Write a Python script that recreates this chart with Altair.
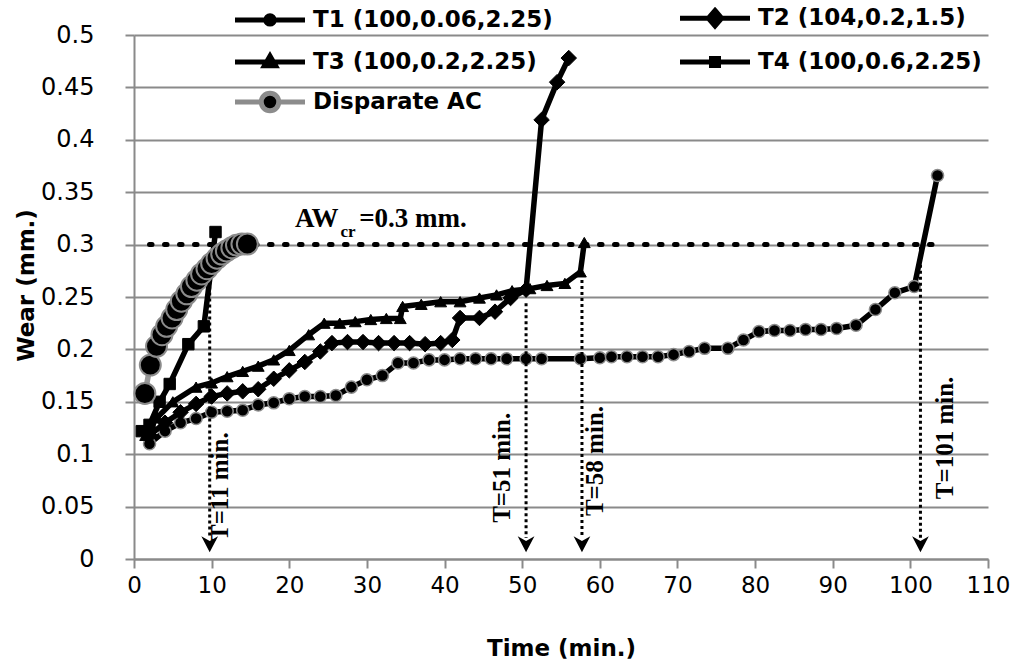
import altair as alt
import pandas as pd

# ---------------- data ----------------
series_names = ["T1 (100,0.06,2.25)", "T2 (104,0.2,1.5)", "T3 (100,0.2,2.25)",
                "T4 (100,0.6,2.25)", "Disparate AC"]
# legend reading order (legend fills column by column)
legend_order = [series_names[0], series_names[2], series_names[4],
                series_names[1], series_names[3]]

t1_time = [2, 4, 6, 8, 10, 12, 14, 16, 18, 20, 22, 24, 26, 28, 30, 32, 34, 36, 38, 40,
           42, 44, 46, 48, 50.5, 52.5, 57.5, 60, 61.5, 63.5, 65.5, 67.5, 69.5, 71.5, 73.5,
           76.5, 78.5, 80.5, 82.5, 84.5, 86.5, 88.5, 90.5, 93, 95.5, 98, 100.5, 103.5]
t1_wear = [0.110, 0.122, 0.130, 0.134, 0.140, 0.141, 0.142, 0.147, 0.149, 0.153,
           0.155, 0.155, 0.156, 0.164, 0.171, 0.175, 0.187, 0.187, 0.190, 0.190,
           0.191, 0.191, 0.191, 0.191, 0.191, 0.191, 0.191, 0.192, 0.193, 0.193,
           0.193, 0.193, 0.195, 0.198, 0.201, 0.201, 0.209, 0.217, 0.218, 0.218,
           0.219, 0.219, 0.220, 0.223, 0.238, 0.254, 0.260, 0.366]

t2_time = [2, 4, 6, 8, 10, 12, 14, 16, 18, 20, 22, 24, 25.5, 27.5, 29.5, 31.5, 33.5,
           35.5, 37.5, 39.5, 41, 42, 44.5, 46.5, 48.5, 50.5, 52.5, 54.5, 56]
t2_wear = [0.118, 0.130, 0.140, 0.148, 0.155, 0.158, 0.160, 0.162, 0.172, 0.180,
           0.188, 0.198, 0.206, 0.207, 0.207, 0.206, 0.206, 0.206, 0.205, 0.206,
           0.209, 0.230, 0.230, 0.236, 0.249, 0.257, 0.419, 0.455, 0.478]

t3_time = [1.5, 3, 5, 8, 10, 12, 14, 16, 18, 20, 22.5, 24.5, 26.5, 28.5, 30.5, 32.5,
           34.3, 34.6, 37, 39.5, 42, 44.5, 46.7, 48.7, 51, 53.2, 55.5, 57.5, 58]
t3_wear = [0.118, 0.135, 0.150, 0.164, 0.168, 0.174, 0.179, 0.184, 0.190, 0.199,
           0.214, 0.225, 0.225, 0.2265, 0.2285, 0.2295, 0.2295, 0.241, 0.243, 0.2455,
           0.2455, 0.249, 0.252, 0.256, 0.258, 0.261, 0.263, 0.274, 0.302]

t4_time = [1, 2, 3.3, 4.6, 7, 9, 10.5]
t4_wear = [0.122, 0.128, 0.150, 0.167, 0.205, 0.222, 0.312]

ac_time = [1.4, 2.1, 2.9, 3.6, 4.2, 4.9, 5.5, 6.1, 6.8, 7.4, 8.1, 8.7, 9.4, 10.0,
           10.7, 11.3, 11.9, 12.6, 13.2, 13.9, 14.6]
ac_wear = [0.158, 0.185, 0.203, 0.214, 0.222, 0.230, 0.238, 0.246, 0.253, 0.260,
           0.266, 0.272, 0.277, 0.282, 0.287, 0.291, 0.294, 0.297, 0.2995, 0.3005, 0.3005]

x_ticks = [0, 10, 20, 30, 40, 50, 60, 70, 80, 90, 100, 110]
y_ticks = [0, 0.05, 0.1, 0.15, 0.2, 0.25, 0.3, 0.35, 0.4, 0.45, 0.5]

# critical wear line and arrows
crit_time = [2, 103.5]
crit_wear = [0.3, 0.3]
arrow_time = [9.75, 50.5, 57.7, 101.3]
arrow_top = [0.26, 0.244, 0.272, 0.298]
arrow_bottom = [0.02, 0.02, 0.02, 0.02]
arrow_head = [0.0145, 0.0145, 0.0145, 0.0145]
label_text = ["T=11 min.", "T=51 min.", "T=58 min.", "T=101 min."]
label_time = [11.1, 47.4, 59.4, 104.5]
label_wear = [0.069, 0.087, 0.0935, 0.1155]

aw_parts = ["AW", "cr", "=0.3 mm."]
aw_time = [20.75, 26.6, 29.0]
aw_wear = [0.317, 0.307, 0.317]
aw_size = [27, 17, 27]

# ---------------- frames ----------------
all_times = [t1_time, t2_time, t3_time, t4_time, ac_time]
all_wears = [t1_wear, t2_wear, t3_wear, t4_wear, ac_wear]
rows = []
for name, ts, ws in zip(series_names, all_times, all_wears):
    for i, (t, w) in enumerate(zip(ts, ws)):
        rows.append({"series": name, "time": t, "wear": w, "idx": i})
df = pd.DataFrame(rows)

crit_df = pd.DataFrame({"time": crit_time, "wear": crit_wear})
arrow_df = pd.DataFrame({"time": arrow_time, "wear": arrow_top, "wear2": arrow_bottom,
                         "head": arrow_head})
label_df = pd.DataFrame({"text": label_text, "time": label_time, "wear": label_wear})
aw_df = pd.DataFrame({"text": aw_parts, "time": aw_time, "wear": aw_wear, "size": aw_size})
legend_df = pd.DataFrame({"series": series_names, "time": [t[0] for t in all_times],
                          "wear": [w[0] for w in all_wears]})

W, H = 854, 524
GRID = "#8a8a8a"
TICK_FONT = "DejaVu Sans"

x_axis = alt.Axis(values=x_ticks, title="Time (min.)", grid=False,
                  domainColor=GRID, domainWidth=2, tickColor=GRID, tickWidth=2, tickSize=9,
                  labelFont=TICK_FONT, labelFontSize=23, labelColor="black", labelPadding=6,
                  labelFlush=False, labelOverlap=False,
                  titleFont=TICK_FONT, titleFontSize=23, titleFontWeight="bold",
                  titleColor="black", titleY=89, titleBaseline="middle")
y_axis = alt.Axis(values=y_ticks, format="~g", title="Wear (mm.)", grid=True,
                  gridColor=GRID, gridWidth=2,
                  domainColor=GRID, domainWidth=2, tickColor=GRID, tickWidth=2, tickSize=9,
                  labelFont=TICK_FONT, labelFontSize=24, labelColor="black", labelPadding=31,
                  labelFlush=False, labelOverlap=False,
                  titleFont=TICK_FONT, titleFontSize=23, titleFontWeight="bold",
                  titleColor="black", titleX=-108, titleY=250, titleAngle=270,
                  titleAlign="center", titleBaseline="middle")

x_scale = alt.Scale(domain=[0, 110], nice=False, zero=False)
y_scale = alt.Scale(domain=[0, 0.5], nice=False)
X = alt.X("time:Q", scale=x_scale, axis=x_axis)
Y = alt.Y("wear:Q", scale=y_scale, axis=y_axis)

point_style = {
    series_names[0]: dict(shape="circle", size=145, stroke="#8c8c8c", strokeWidth=1.5),
    series_names[1]: dict(shape="diamond", size=240, stroke="black", strokeWidth=1),
    series_names[2]: dict(shape="triangle-up", size=140, stroke="black", strokeWidth=1),
    series_names[3]: dict(shape="square", size=130, stroke="black", strokeWidth=1),
    series_names[4]: dict(shape="circle", size=440, stroke="#8c8c8c", strokeWidth=2),
}
line_color = {n: "black" for n in series_names}
line_color[series_names[4]] = "#9a9a9a"

layers = []
# critical line first (behind)
layers.append(alt.Chart(crit_df).mark_line(color="black", strokeWidth=5, strokeDash=[2.5, 12.5],
                                           strokeCap="round").encode(x=X, y=Y))
for n in series_names:
    sub = alt.Chart(df).transform_filter(alt.datum.series == n)
    layers.append(sub.mark_line(color=line_color[n], strokeWidth=5.5).encode(
        x=X, y=Y, order="idx:Q"))
    layers.append(sub.mark_point(filled=True, fill="black", opacity=1,
                                 **point_style[n]).encode(x=X, y=Y))

# arrows
layers.append(alt.Chart(arrow_df).mark_rule(color="black", strokeWidth=3, strokeDash=[3, 3]).encode(
    x=X, y=Y, y2="wear2:Q"))
arrow_path = "M-1,-0.9L0,1L1,-0.9L0,-0.35Z"
layers.append(alt.Chart(arrow_df).mark_point(shape=arrow_path, size=280, filled=True,
                                             color="black", opacity=1).encode(
    x=X, y=alt.Y("head:Q", scale=y_scale, axis=y_axis)))
layers.append(alt.Chart(label_df).mark_text(font="Liberation Serif", fontWeight="bold",
                                            fontSize=25, angle=270, align="center",
                                            baseline="middle", color="black").encode(
    x=X, y=Y, text="text:N"))
layers.append(alt.Chart(aw_df).mark_text(font="Liberation Serif", fontWeight="bold",
                                         align="left", baseline="alphabetic",
                                         color="black").encode(
    x=X, y=Y, text="text:N", size=alt.Size("size:Q", scale=None, legend=None)))

# legend layer (invisible marks, visible legend)
# symbol paths in units of half the symbol size (size 1225 -> 17.5 px per unit)
leg_paths_by_name = {
    series_names[0]: "M-2,0L-0.24,0M0.24,0L2,0M0.24,0A0.24,0.24,0,1,1,-0.24,0A0.24,0.24,0,1,1,0.24,0Z",
    series_names[1]: "M-2,0L-0.38,0M0.38,0L2,0M0,-0.44L0.38,0L0,0.44L-0.38,0Z",
    series_names[2]: "M-2,0L-0.28,0M0.28,0L2,0M0,-0.34L0.32,0.22L-0.32,0.22Z",
    series_names[3]: "M-2,0L-0.2,0M0.2,0L2,0M-0.2,-0.2L0.2,-0.2L0.2,0.2L-0.2,0.2Z",
    series_names[4]: "M-2,0L-0.5,0M0.5,0L2,0M0.5,0A0.5,0.5,0,1,1,-0.5,0A0.5,0.5,0,1,1,0.5,0Z",
}
leg_stroke_by_name = {n: "black" for n in series_names}
leg_stroke_by_name[series_names[4]] = "#8c8c8c"
leg_paths = [leg_paths_by_name[n] for n in legend_order]
leg_strokes = [leg_stroke_by_name[n] for n in legend_order]

legend = alt.Legend(title=None, orient="none", legendX=116, legendY=-37, columns=2,
                    columnPadding=117, rowPadding=6, labelFont="DejaVu Sans",
                    labelFontWeight="bold", labelFontSize=23, labelColor="black",
                    labelOffset=23, symbolSize=1225, symbolStrokeWidth=5,
                    symbolFillColor="black", symbolOpacity=1, padding=0, labelLimit=500)
layers.append(alt.Chart(legend_df).mark_point(filled=True, opacity=0, size=1225,
                                              fill="black").encode(
    x=X, y=Y,
    shape=alt.Shape("series:N", scale=alt.Scale(domain=legend_order, range=leg_paths),
                    legend=legend),
    stroke=alt.Stroke("series:N", scale=alt.Scale(domain=legend_order, range=leg_strokes),
                      legend=legend)))

chart = alt.layer(*layers).properties(
    width=W, height=H,
    padding={"left": 134, "top": 35, "right": 30, "bottom": 109},
    autosize=alt.AutoSizeParams(type="none"),
    background="white",
).configure_view(stroke=None)

chart.save("out.html", embed_options={"renderer": "svg", "actions": False})
